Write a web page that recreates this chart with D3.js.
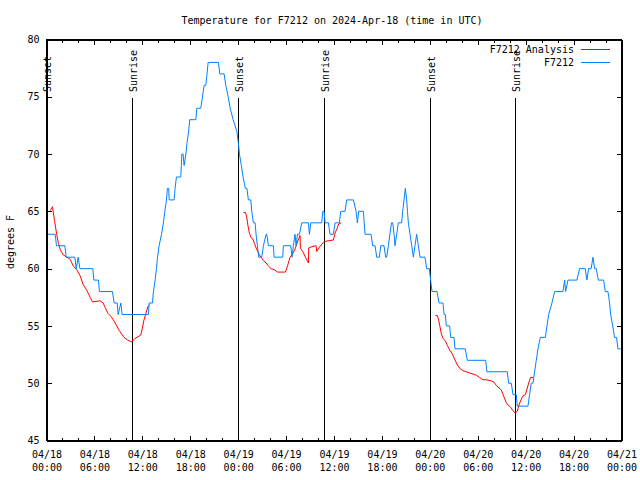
<!DOCTYPE html>
<html>
<head>
<meta charset="utf-8">
<script src="https://cdn.jsdelivr.net/npm/d3@7"></script>
<style>
  html, body { margin: 0; padding: 0; background: #fff; }
  svg { display: block; }
  text { font-family: "DejaVu Sans Mono", "Liberation Mono", monospace; font-size: 10px; fill: #000; }
</style>
</head>
<body>
<svg id="chart" width="640" height="480"></svg>
<script>
// ---------- DATA ----------
const titleText = "Temperature for F7212 on 2024-Apr-18 (time in UTC)";
const yLabel = "degrees F";
const startUTC = Date.UTC(2024, 3, 18, 0, 0);
const endUTC = Date.UTC(2024, 3, 21, 0, 0);
const yTicks = [45, 50, 55, 60, 65, 70, 75, 80];

// observed station series (hours since 04/18 00:00 UTC, deg F)
const stationHours = [0.18,1.09,1.25,2.3,2.47,3.55,3.72,3.97,4.18,5.8,5.93,6.5,6.63,8.26,8.47,8.85,8.97,9.31,9.47,12.77,12.85,13.27,
  13.39,13.6,13.77,13.9,14.1,14.4,14.64,14.82,15.02,15.14,15.3,15.36,15.98,16.1,16.27,16.82,16.88,16.95,17.1,17.23,17.45,17.6,17.8,17.94,
  18.7,18.82,19.32,19.53,19.74,19.95,20.1,20.24,21.53,21.7,22.24,22.45,22.75,23.0,23.37,23.83,24.02,24.16,24.4,24.62,24.9,25.1,25.28,
  25.58,25.7,25.91,26.12,26.24,26.41,26.58,26.96,27.16,27.5,27.58,27.79,28.41,28.5,29.58,29.66,30.58,30.75,30.91,31.12,31.25,31.42,31.67,
  31.96,32.8,32.92,33.09,34.46,34.6,34.76,34.88,35.3,35.5,35.92,36.13,36.67,36.84,36.97,37.38,37.59,38.43,38.76,38.93,39.09,39.68,39.78,
  39.89,40.64,40.85,41.14,41.35,41.68,41.85,42.26,42.47,42.6,42.81,43.0,43.2,43.35,43.52,43.64,43.85,44.06,44.47,44.6,44.77,44.93,45.1,
  45.2,45.31,45.52,45.73,45.94,46.14,46.35,46.56,46.77,47.39,47.6,47.94,48.1,48.27,48.9,49.15,49.65,49.78,49.94,50.06,50.48,50.61,51.03,
  51.15,52.44,52.69,54.99,55.15,57.7,57.87,58.2,58.41,58.83,58.95,60.29,60.49,60.7,60.91,61.12,61.33,61.54,61.83,62.46,62.67,62.88,63.29,
  63.63,64.67,64.88,65.0,65.3,66.42,66.75,67.46,67.67,67.88,68.21,68.42,68.63,68.84,69.1,69.76,69.97,70.3,70.51,70.64,70.9,71.13,71.38,
  71.55,71.9];
const stationTemps = [63,63,62,62,61,61,60,61,60,60,59,59,58,58,57,57,56,57,56,56,57,57,
  58,59,60,61,62,63,64,65,66,67,67,66,66,67,68,68,69,70,70,69,70,71,72,73,
  73,74,74,75,76,76,77,78,78,77,77,76,75,74,73,72,71,70,69,68,67,67,66,
  66,65,64,64,63,62,61,61,62,63,63,62,62,61,61,62,62,61,62,63,62,63,63,
  64,64,63,64,64,65,65,64,64,63,63,64,64,65,65,65,66,66,65,64,65,65,64,
  63,63,62,62,61,61,62,62,61,61,62,63,64,64,63,62,63,64,64,65,66,67,66,
  65,64,63,62,61,62,63,62,61,61,60,60,59,58,58,57,57,56,56,55,55,54,54,
  53,53,52,52,51,51,50,50,49,49,48,48,49,50,50,51,52,53,54,54,55,56,57,
  58,58,59,58,59,59,60,60,59,60,60,61,60,60,59,59,58,58,57,56,55,54,54,
  53,53];

// analysis series, three runs separated by null
const analysisHours = [0.46,0.75,1.0,1.3,1.5,1.75,2.1,2.55,2.97,3.38,3.8,4.2,4.6,5.05,5.47,5.75,6.35,6.7,7.1,7.35,7.7,8.1,8.4,8.8,9.1,9.4,9.7,
  10.1,10.65,11.05,11.8,12.0,12.2,12.45,12.7,12.9, null,
  24.66,24.91,25.07,25.24,25.41,25.62,25.83,26.04,26.25,26.45,26.66,26.87,27.16,27.5,27.83,28.12,28.54,28.96,29.92,30.21,30.5,30.83,31.17,
  31.46,31.75,31.79,32.08,32.5,32.79,32.84,33.13,33.75,33.84,34.09,34.67,35.0,35.92,36.13,36.38,36.59,36.92, null,
  48.69,48.94,49.11,49.28,49.44,49.65,49.94,50.19,50.48,50.78,51.11,51.44,51.74,52.15,52.57,52.99,53.4,53.82,54.24,54.66,55.07,55.7,56.03,
  56.33,56.66,56.95,57.29,57.58,57.79,58.12,58.41,58.7,58.95,59.16,59.45,59.66,59.96,60.17,60.42,60.62,60.91];
const analysisTemps = [65.06,65.4,64.2,62.9,62.2,61.6,61.2,61.0,60.8,60.2,59.9,59.4,58.6,58.1,57.5,57.1,57.15,57.2,57.0,56.6,56.1,55.8,55.5,55.0,54.6,54.3,54.0,
  53.8,53.6,53.9,54.2,54.8,55.5,56.1,56.7,56.8, null,
  64.9,64.9,64.5,63.7,63.1,62.7,62.6,62.2,61.8,61.5,61.2,61.0,60.7,60.5,60.2,60.0,59.9,59.7,59.7,60.3,61.0,61.3,61.8,
  62.4,62.9,61.8,61.5,60.9,60.5,61.8,61.9,62.0,61.5,61.8,62.3,62.4,62.5,63.1,63.5,63.9,64.0, null,
  55.9,55.9,55.5,54.9,54.3,53.9,53.7,53.3,52.9,52.6,52.1,51.6,51.3,51.1,51.0,50.9,50.8,50.7,50.5,50.3,50.3,50.2,50.1,
  49.8,49.6,49.4,48.8,48.3,48.1,47.9,47.6,47.4,47.55,48.1,48.6,48.9,49.0,49.5,50.1,50.5,50.5];

const sunHours = [0, 10.77, 24.04, 34.8, 48.09, 58.67];
const sunLabels = ["Sunset", "Sunrise", "Sunset", "Sunrise", "Sunset", "Sunrise"];

const seriesNames = ["F7212 Analysis", "F7212"];
const seriesColors = ["#ff0000", "#0080ff"];

// ---------- CHART ----------
const svg = d3.select("#chart");
const L = 46.5, R = 621.5, T = 39.5, B = 440.5;
const toDate = h => new Date(startUTC + h * 3600e3);

const x = d3.scaleUtc().domain([new Date(startUTC), new Date(endUTC)]).range([L, R]);
const y = d3.scaleLinear().domain([45, 80]).range([B, T]);

svg.append("defs").append("clipPath").attr("id", "clip")
  .append("rect").attr("x", L).attr("y", T).attr("width", R - L).attr("height", B - T);

const minorTicks = d3.utcHour.every(2).range(new Date(startUTC), new Date(endUTC + 1));
const majorTicks = d3.utcHour.every(6).range(new Date(startUTC), new Date(endUTC + 1));
const fmtDate = d3.utcFormat("%m/%d"), fmtTime = d3.utcFormat("%H:%M");

function styleAxis(g) {
  g.attr("font-family", null).attr("font-size", null);
  g.selectAll("path, line").attr("stroke", "#000").attr("shape-rendering", "crispEdges");
}

// bottom minor & major
svg.append("g").attr("transform", `translate(0,${B})`)
  .call(d3.axisBottom(x).tickValues(minorTicks).tickSizeInner(-3).tickSizeOuter(0).tickFormat(""))
  .call(styleAxis);
const bottomMajor = svg.append("g").attr("transform", `translate(0,${B})`)
  .call(d3.axisBottom(x).tickValues(majorTicks).tickSizeInner(-5).tickSizeOuter(0).tickFormat(fmtDate))
  .call(styleAxis);
bottomMajor.selectAll(".tick text").each(function(d) {
  const t = d3.select(this);
  t.text(null).attr("y", 0).attr("dy", null);
  t.append("tspan").attr("x", 0).attr("y", 17.5).text(fmtDate(d));
  t.append("tspan").attr("x", 0).attr("y", 30.5).text(fmtTime(d));
});
// top mirror
svg.append("g").attr("transform", `translate(0,${T})`)
  .call(d3.axisTop(x).tickValues(minorTicks).tickSizeInner(-3).tickSizeOuter(0).tickFormat(""))
  .call(styleAxis);
svg.append("g").attr("transform", `translate(0,${T})`)
  .call(d3.axisTop(x).tickValues(majorTicks).tickSizeInner(-5).tickSizeOuter(0).tickFormat(""))
  .call(styleAxis);
// left & right
svg.append("g").attr("transform", `translate(${L},0)`)
  .call(d3.axisLeft(y).tickValues(yTicks).tickSizeInner(-5).tickSizeOuter(0).tickPadding(7).tickFormat(d3.format("d")))
  .call(styleAxis);
svg.append("g").attr("transform", `translate(${R},0)`)
  .call(d3.axisRight(y).tickValues(yTicks).tickSizeInner(-5).tickSizeOuter(0).tickFormat(""))
  .call(styleAxis);

// sunrise / sunset markers
const sunG = svg.append("g");
sunHours.forEach((h, i) => {
  const px = Math.round(x(toDate(h)) - 0.5) + 0.5;
  sunG.append("line").attr("x1", px).attr("x2", px).attr("y1", 98).attr("y2", B)
    .attr("stroke", "#000").attr("shape-rendering", "crispEdges");
  sunG.append("text").attr("transform", `translate(${px + 4.5},92) rotate(-90)`)
    .attr("text-anchor", "start").text(sunLabels[i]);
});

// data lines
const plotG = svg.append("g").attr("clip-path", "url(#clip)");
const analysisData = analysisHours.map((h, i) => ({ h, v: analysisTemps[i] }));
const stationData = stationHours.map((h, i) => ({ h, v: stationTemps[i] }));
const line = d3.line().defined(d => d.h !== null && d.v !== null)
  .x(d => x(toDate(d.h))).y(d => y(d.v));

plotG.append("path").datum(analysisData).attr("d", line)
  .attr("fill", "none").attr("stroke", seriesColors[0]).attr("stroke-width", 1);
plotG.append("path").datum(stationData).attr("d", line)
  .attr("fill", "none").attr("stroke", seriesColors[1]).attr("stroke-width", 1);

// frame on top
svg.append("rect").attr("x", L).attr("y", T).attr("width", R - L).attr("height", B - T)
  .attr("fill", "none").attr("stroke", "#000").attr("shape-rendering", "crispEdges");

// legend
seriesNames.forEach((name, i) => {
  const ly = 49.5 + i * 13;
  svg.append("text").attr("x", 574).attr("y", ly + 3.8).attr("text-anchor", "end").text(name);
  svg.append("line").attr("x1", 581).attr("x2", 610).attr("y1", ly).attr("y2", ly)
    .attr("stroke", seriesColors[i]).attr("shape-rendering", "crispEdges");
});

// title and y label
svg.append("text").attr("x", 332).attr("y", 24).attr("text-anchor", "middle").text(titleText);
svg.append("text").attr("transform", "translate(13.5,242) rotate(-90)")
  .attr("text-anchor", "middle").text(yLabel);
</script>
</body>
</html>
